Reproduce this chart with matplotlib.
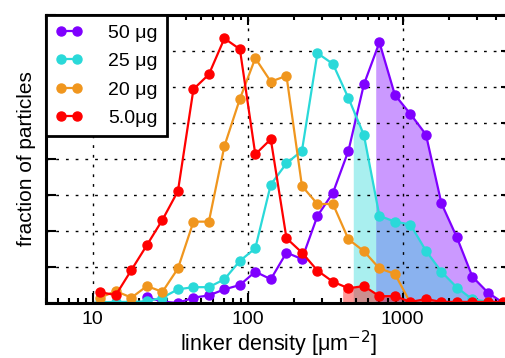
import numpy as np
import matplotlib
matplotlib.use("Agg")
import matplotlib.pyplot as plt
from matplotlib.ticker import LogLocator, NullFormatter, MultipleLocator, NullLocator

plt.rcParams['font.family'] = ['Liberation Sans', 'DejaVu Sans']

# log-bin centres (linker density, um^-2)
density = [11.2, 14.1, 17.8, 22.4, 28.2, 35.5, 44.7, 56.2, 70.8, 89.1,
           112, 141, 178, 224, 282, 355, 447, 562, 708, 891,
           1122, 1413, 1778, 2239, 2818, 3548, 4467]

nan = np.nan
frac_50 = [nan, nan, nan, 0.16, 0.04, 0.0, 0.15, 0.21, 0.38, 0.50,
           0.87, 0.66, 1.40, 1.22, 2.42, 3.06, 4.23, 6.07, 7.24, 5.78,
           5.25, 4.68, 2.77, 1.82, 0.73, 0.29, 0.0]
frac_25 = [0.02, 0.03, 0.03, 0.05, 0.15, 0.38, 0.44, 0.44, 0.66, 1.17,
           1.52, 3.29, 3.88, 4.23, 6.94, 6.64, 5.69, 4.67, 2.42, 2.26,
           2.18, 1.45, 0.87, 0.43, 0.10, 0.04, 0.0]
frac_20 = [0.15, 0.33, 0.15, 0.47, 0.31, 0.96, 2.26, 2.26, 4.36, 5.67,
           6.80, 6.15, 6.31, 3.25, 2.75, 2.75, 1.77, 1.44, 0.96, 0.81,
           0.0, 0.0, 0.0, 0.0, 0.0, 0.0, 0.0]
frac_5 = [0.30, 0.22, 0.92, 1.61, 2.31, 3.11, 5.94, 6.35, 7.35, 7.05,
          4.13, 4.55, 1.80, 1.40, 0.90, 0.59, 0.41, 0.47, 0.19, 0.19,
          0.03, 0.11, 0.03, 0.03, 0.03, 0.03, 0.03]

labels = ['50 μg', '25 μg', '20 μg', '5.0μg']
colors = ['#7f00ff', '#2ad9d9', '#f0961e', '#ff0000']
series = [frac_50, frac_25, frac_20, frac_5]
# shaded tails start here (None = no shading)
tail_start = [670, 480, None, 410]


def tail(x, y, x0):
    x = np.asarray(x, float)
    y = np.nan_to_num(np.asarray(y, float))
    y0 = np.interp(np.log10(x0), np.log10(x), y)
    keep = x > x0
    return np.concatenate([[x0], x[keep]]), np.concatenate([[y0], y[keep]])


fig = plt.figure(figsize=(5.06, 3.58), dpi=100)
ax = fig.add_axes([0.0909, 0.1536, 0.919, 0.8045])

for y, c, t in zip(series, colors, tail_start):
    if t is None:
        continue
    tx, ty = tail(density, y, t)
    ax.fill_between(tx, 0, ty, color=c, alpha=0.4, linewidth=0)

for y, c, lab in zip(series, colors, labels):
    ax.plot(density, y, '-o', color=c, lw=1.6, ms=6.5, mec=c, label=lab)

ax.set_xscale('log')
ax.set_xlim(5, 5000)
ax.set_ylim(0, 8)
ax.yaxis.set_major_locator(MultipleLocator(1))
ax.yaxis.set_minor_locator(NullLocator())
ax.set_yticklabels([])
ax.xaxis.set_minor_locator(LogLocator(base=10, subs=np.arange(2, 10)))
ax.xaxis.set_minor_formatter(NullFormatter())
ax.set_xticks([10, 100, 1000])
ax.set_xticklabels(['10', '100', '1000'])

ax.tick_params(which='both', direction='in', top=True, right=True, width=1.5)
ax.tick_params(which='major', length=7, labelsize=14, pad=6)
ax.tick_params(which='minor', length=3.5)
for s in ax.spines.values():
    s.set_linewidth(2.2)

ax.grid(True, which='major', color='black', linestyle=(0, (2, 5)), linewidth=1.0)

ax.set_xlabel('linker density [μm$^{-2}$]', fontsize=15.5, labelpad=0)
ax.set_ylabel('fraction of particles', fontsize=15, labelpad=1)

leg = ax.legend(loc='upper left', borderaxespad=0, fontsize=14, numpoints=2,
                handlelength=1.44, handletextpad=1.3, labelspacing=0.56,
                borderpad=0.46, fancybox=False, framealpha=1)
leg.get_frame().set_edgecolor('black')
leg.get_frame().set_linewidth(2)

fig.savefig('out.png', dpi=100)
